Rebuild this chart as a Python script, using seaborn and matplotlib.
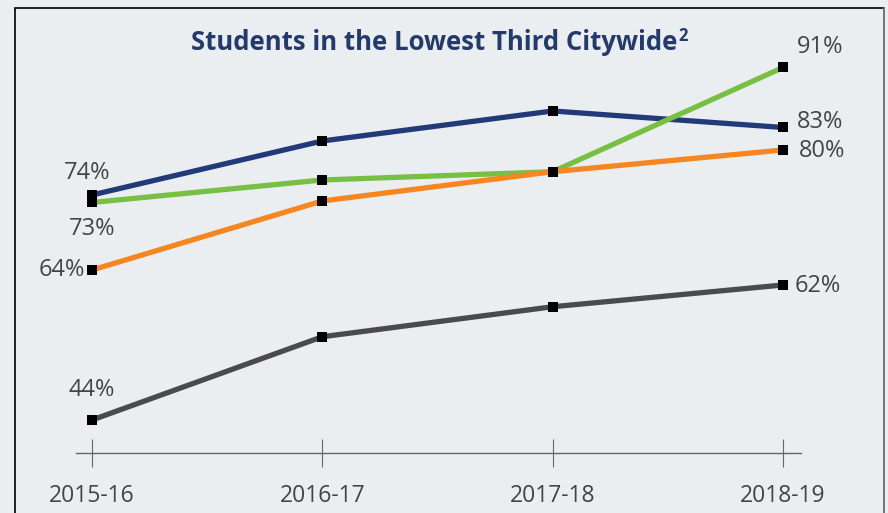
import pandas as pd
import seaborn as sns
import matplotlib.pyplot as plt
from matplotlib.patches import Rectangle

years = ["2015-16", "2016-17", "2017-18", "2018-19"]
blue_vals = [74, 81.2, 85.2, 83]
green_vals = [73, 76, 77.1, 91]
orange_vals = [64, 73.2, 77.1, 80]
gray_vals = [44, 55.1, 59.1, 62]

series_names = ["blue", "green", "orange", "gray"]
series_colors = {"blue": "#233a78", "green": "#78c043", "orange": "#f6861f", "gray": "#4b4b4b"}

records = []
for name, vals in zip(series_names, [blue_vals, green_vals, orange_vals, gray_vals]):
    for i, (yr, v) in enumerate(zip(years, vals)):
        records.append({"series": name, "year": yr, "x": i, "value": v})
df = pd.DataFrame.from_records(records)

bg = "#ebeef1"
txt = "#444444"

sns.set_theme(style="white")
plt.rcParams["font.family"] = ["Open Sans", "DejaVu Sans"]

W, H = 888, 513
fig = plt.figure(figsize=(W / 100, H / 100), dpi=100, facecolor=bg)
# axes: x from 76 to 801 px, y from 8 to 453 px
ax = fig.add_axes([76 / W, (H - 453) / H, (801 - 76) / W, (453 - 8) / H])
ax.set_facecolor("none")

sns.lineplot(data=df, x="x", y="value", hue="series", palette=series_colors,
             hue_order=series_names, linewidth=3.8, legend=False, ax=ax,
             marker="s", markersize=6.5, markerfacecolor="black",
             markeredgecolor="black", markeredgewidth=0)

ax.set_xlim(-16 / 230.33, 3 + 18 / 230.33)
ax.set_ylim(39.6, 98.93)

for s in ["top", "right", "left"]:
    ax.spines[s].set_visible(False)
ax.spines["bottom"].set_color("#666666")
ax.spines["bottom"].set_linewidth(1.0)
ax.set_yticks([])
ax.set_xticks(range(len(years)))
ax.set_xticklabels(years)
ax.tick_params(axis="x", direction="inout", length=20, width=0.8, color="#666666",
               labelsize=16.5, labelcolor=txt, pad=12, bottom=True)
ax.set_xlabel("")
ax.set_ylabel("")

# value labels
lab_kw = dict(fontsize=17, color=txt, ha="center", va="center")
ax.text(-0.02, blue_vals[0] + 2.9, "74%", **lab_kw)
ax.text(0.0, green_vals[0] - 3.6, "73%", **lab_kw)
ax.text(-0.13, orange_vals[0], "64%", **lab_kw)
ax.text(0.0, gray_vals[0] + 4.0, "44%", **lab_kw)
ax.text(3.16, green_vals[3] + 2.7, "91%", **lab_kw)
ax.text(3.16, blue_vals[3] + 0.7, "83%", **lab_kw)
ax.text(3.17, orange_vals[3] - 0.2, "80%", **lab_kw)
ax.text(3.15, gray_vals[3] - 0.1, "62%", **lab_kw)

fig.text(434 / W, 1 - 42 / H, "Students in the Lowest Third Citywide", ha="center",
         va="center", fontsize=18.5, fontweight="bold", color="#233a6b")
fig.text(678 / W, 1 - 36 / H, "2", ha="left", va="center", fontsize=12,
         fontweight="bold", color="#233a6b")

# frame around chart
fig.patches.append(Rectangle((15 / W, -0.05), (884 - 15) / W, 1.05 - 8 / H,
                             transform=fig.transFigure, fill=False,
                             edgecolor="black", linewidth=1.2))
fig.add_artist(plt.Line2D([884 / W, 884 / W], [0, 1 - 8 / H], transform=fig.transFigure,
                          color="#888888", linewidth=1.2))

fig.savefig("out.png", dpi=100, facecolor=bg)
